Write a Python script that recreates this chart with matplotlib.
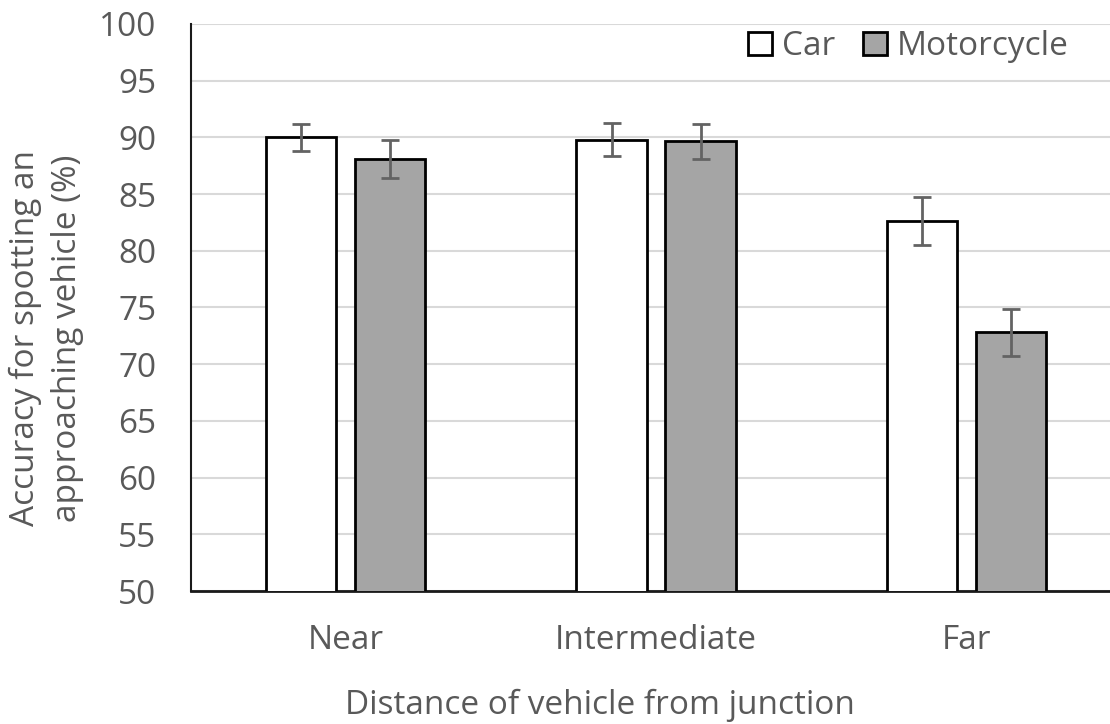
import numpy as np
import matplotlib.pyplot as plt

plt.rcParams['font.family'] = ['Open Sans', 'DejaVu Sans']

categories = ['Near', 'Intermediate', 'Far']
car = [90.0, 89.8, 82.6]
car_err = [1.2, 1.45, 2.1]
moto = [88.1, 89.65, 72.8]
moto_err = [1.7, 1.55, 2.1]

text_col = '#595959'
fig = plt.figure(figsize=(11.1, 7.24), dpi=100)
ax = fig.add_axes([0.172, 0.1837, 0.838, 0.7832])

x = np.arange(len(categories))
w = 0.226
off = 0.1435
err_kw = dict(ecolor='#636363', elinewidth=2, capsize=6.5, capthick=2)
ax.bar(x - off, car, w, color='white', edgecolor='black', linewidth=2,
       yerr=car_err, error_kw=err_kw, label='Car', zorder=3)
ax.bar(x + off, moto, w, color='#a5a5a5', edgecolor='black', linewidth=2,
       yerr=moto_err, error_kw=err_kw, label='Motorcycle', zorder=3)

ax.set_ylim(50, 100)
ax.set_xlim(-0.5, 2.5)
ax.set_yticks(range(50, 101, 5))
ax.set_xticks(x)
ax.set_xticklabels(categories)
ax.yaxis.grid(True, color='#d9d9d9', linewidth=1.5, zorder=0)
ax.set_axisbelow(True)
ax.tick_params(axis='both', length=0, labelsize=24, colors=text_col)
ax.tick_params(axis='x', pad=24)
ax.tick_params(axis='y', pad=25)
for s in ['top', 'right']:
    ax.spines[s].set_visible(False)
ax.spines['left'].set_color('#1a1a1a')
ax.spines['left'].set_linewidth(1.5)
ax.spines['bottom'].set_color('#1a1a1a')
ax.spines['bottom'].set_linewidth(2)

ax.set_xlabel('Distance of vehicle from junction', fontsize=24, color=text_col, va='center')
ax.xaxis.set_label_coords(0.44, -0.202)
ax.set_ylabel('Accuracy for spotting an\napproaching vehicle (%)', fontsize=24,
              color=text_col, linespacing=1.35)
ax.yaxis.set_label_coords(-0.115, 0.446)

leg = ax.legend(loc='upper left', bbox_to_anchor=(0.585, 1.012), ncol=2, frameon=False,
                fontsize=24, handlelength=0.7, handleheight=0.7, handletextpad=0.3,
                columnspacing=0.85, borderaxespad=0)
for t in leg.get_texts():
    t.set_color(text_col)

fig.savefig('out.png', dpi=100)
